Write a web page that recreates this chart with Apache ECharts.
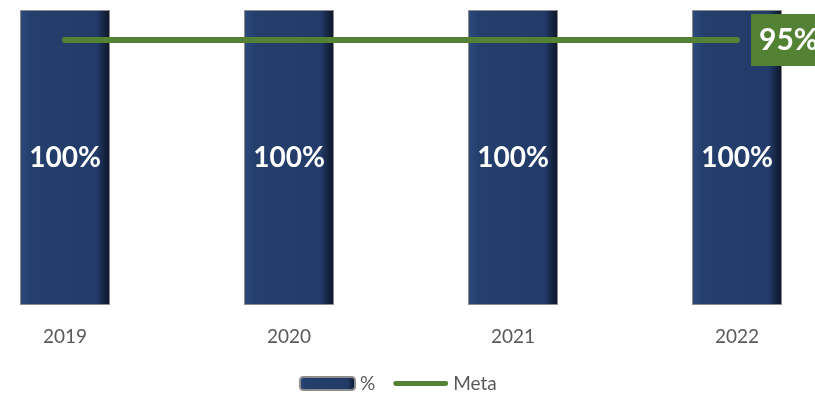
<!DOCTYPE html>
<html><head><meta charset="utf-8">
<script src="https://cdn.jsdelivr.net/npm/echarts@6/dist/echarts.min.js"></script>
<style>html,body{margin:0;padding:0;background:#fff}#c{width:815px;height:400px}</style>
</head><body><div id="c"></div>
<script>
const categories = ['2019','2020','2021','2022'];
const pctValues = [100,100,100,100];
const metaValues = [95,95,95,95];

const chart = echarts.init(document.getElementById('c'));
const barColor = new echarts.graphic.LinearGradient(0,0,1,0,[
  {offset:0,color:'#2c4a7c'},{offset:0.12,color:'#253f6c'},
  {offset:0.85,color:'#223b68'},{offset:1,color:'#0c1526'}]);
chart.setOption({
  animation:false,
  textStyle:{fontFamily:'Lato'},
  grid:{left:65,right:78,top:10,bottom:95},
  xAxis:{type:'category',boundaryGap:false,data:categories,axisLine:{show:false},axisTick:{show:false},
    axisLabel:{color:'#595959',fontSize:19,margin:22}},
  yAxis:[{type:'value',min:0,max:100,show:false},{type:'value',min:0,max:105.75,show:false}],
  legend:{bottom:2,left:294,itemGap:18,itemWidth:55,itemHeight:13,
    textStyle:{color:'#595959',fontSize:19},
    data:[{name:'%'},{name:'Meta',icon:'path://M4,0 L96,0 A4,4 0 0 1 96,9 L4,9 A4,4 0 0 1 4,0 Z'}]},
  series:[
    {name:'%',type:'bar',data:pctValues,barWidth:90,
     itemStyle:{color:barColor,borderColor:'#8c8c8c',borderWidth:1},
     label:{show:true,position:'inside',color:'#fff',fontSize:28,fontWeight:'bold',
       formatter:p=>p.value+'%'}},
    {name:'Meta',type:'line',yAxisIndex:1,symbol:'circle',symbolSize:0.1,
     data:metaValues.map((v,i)=>i===metaValues.length-1?{value:v,label:{show:true}}:v),
     lineStyle:{color:'#548235',width:6,cap:'round'},itemStyle:{color:'#548235'},
     label:{show:false,position:'right',distance:14,color:'#fff',fontSize:30,fontWeight:'bold',
       backgroundColor:'#548235',padding:[11,8,11,8],formatter:p=>p.value+'%'}}
  ]
});
</script></body></html>
